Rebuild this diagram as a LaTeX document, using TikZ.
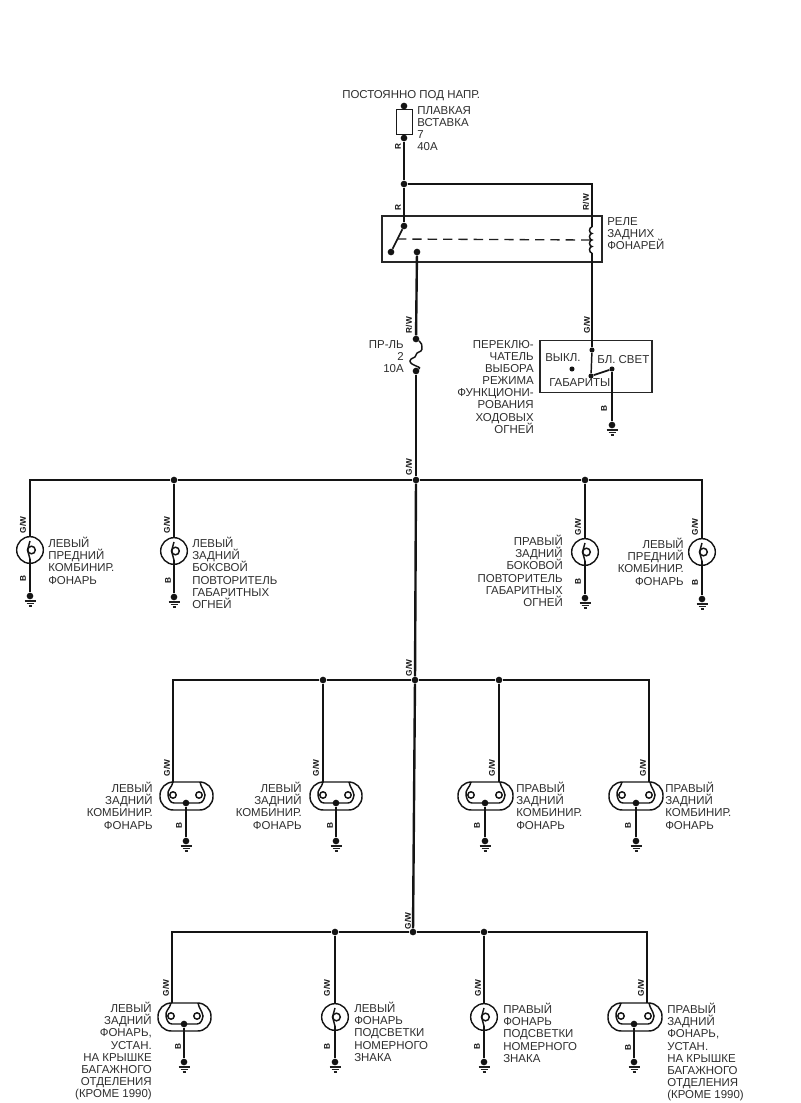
\documentclass[tikz,border=0pt]{standalone}
\usepackage{fontspec}
\setmainfont{Liberation Sans}
\usetikzlibrary{calc}
\newcommand{\lblfont}{\fontsize{8.6}{9.1}\selectfont\lineskiplimit-6pt\relax}
\tikzset{
  wire/.style={line width=1.8pt,color=black!92},
  thinl/.style={line width=0.85pt,color=black!88},
  filam/.style={line width=1.1pt,color=black!92},
  dot/.style={circle,fill=black!92,inner sep=0pt,minimum size=5pt},
  lbl/.style={font=\lblfont,inner sep=0pt,color=black!82},
  wlbl/.style={font=\fontsize{6.2}{6.5}\selectfont\bfseries,inner sep=0pt,rotate=90,color=black!92},
  lampc/.style={circle,draw=black!92,line width=1.05pt,inner sep=0pt,minimum size=20pt},
}
% ground under a dot
\newcommand{\gnd}[1]{
  \draw[thinl] ($(#1)+(-5.5,5)$)--++(11,0);
  \draw[thinl] ($(#1)+(-3.5,7.5)$)--++(7,0);
  \draw[thinl] ($(#1)+(-1.5,10)$)--++(3,0);
}
% round lamp: name, x, y, y of ground dot
\newcommand{\roundlamp}[4]{
  \node[lampc] (#1) at (#2,#3) {};
  \node[dot] (#1g) at (#2,#4) {};
  \draw[filam] ($(#1)+(1.5,0)$) circle (3.8);
  \draw[filam] ($(#1.north)+(0,5)$) to[out=-90,in=90] ($(#1)+(-2.5,0)$) to[out=-90,in=90] ($(#1.south)+(0,-5)$);
  \draw[wire] (#1.south)++(0,-5)--(#1g);
  \gnd{#1g}
}
% double lamp: name, x left, x right, y top, x of ground
\newcommand{\duallamp}[5]{
  \draw[filam,rounded corners=10pt] (#2,#4) rectangle (#3,#4+28);
  \coordinate (#1L) at (#2+13,#4+13);
  \coordinate (#1R) at (#3-14,#4+13);
  \draw[filam] (#1L) circle (3.2);
  \draw[filam] (#1R) circle (3.2);
  \draw[filam] (#2+13,#4) to[out=-100,in=100] (#2+8,#4+13) to[out=-80,in=180] (#2+14,#4+21)--(#3-14,#4+21) to[out=0,in=-100] (#3-8,#4+13) to[out=100,in=-80] (#3-13,#4);
  \node[dot] (#1d) at (#5,#4+21) {};
  \node[dot] (#1g) at (#5,#4+59) {};
  \draw[wire] (#1d)--(#1g);
  \gnd{#1g}
}
\begin{document}
\begin{tikzpicture}[x=0.75pt,y=-0.75pt]
\useasboundingbox (0,0) rectangle (800,1103);
% feed, fuse and relay
\node[lbl,anchor=west] (feedTxt) at (342,96) {ПОСТОЯННО ПОД НАПР.};
\node[dot] (fuseTop) at (404,106) {};
\node[dot] (fuseBot) at (404,138) {};
\node[draw=black!90,line width=0.9pt,minimum width=12.5pt,minimum height=19pt,inner sep=0pt] (fuse) at (404.5,122) {};
\draw[wire] (fuseTop)--(fuse.north);
\draw[wire] (fuse.south)--(fuseBot);
\node[lbl,anchor=north west,align=left] (fuseTxt) at (417,106) {ПЛАВКАЯ\\ВСТАВКА\\7\\40А};
\node[dot] (feed) at (404,184) {};
\draw[wire] (fuseBot)--(feed);
\node[wlbl] (rA) at (398,147) {R};
\node[wlbl] (rB) at (398,208) {R};
\node[wlbl] (rwA) at (586,202) {R/W};
\node[draw=black!85,line width=0.8pt,inner sep=0pt,minimum width=165pt,minimum height=34.5pt] (relay) at (492,239) {};
\node[lbl,anchor=north west,align=left] (relayTxt) at (607,217) {РЕЛЕ\\ЗАДНИХ\\ФОНАРЕЙ};
\node[dot] (swA) at (404,226) {};
\node[dot] (swB) at (391,252) {};
\node[dot] (swC) at (417,252) {};
\draw[wire] (feed)--(swA);
\draw[filam,line width=1.3pt] (swA)--(swB);
\coordinate (coilT) at (592,227);
\coordinate (coilB) at (592,253);
\draw[wire] (feed)--(592,184)--(coilT);
\draw[filam] (coilT) arc (-90:-270:2.5 and 3.25) arc (-90:-270:2.5 and 3.25) arc (-90:-270:2.5 and 3.25) arc (-90:-270:2.5 and 3.25);
\draw[thinl,dash pattern=on 7pt off 4.5pt,line width=1pt] (397,239)--(590,240);
% lights switch
\node[draw=black!85,line width=0.8pt,inner sep=0pt,minimum width=84pt,minimum height=38.5pt] (swBox) at (596,366.5) {};
\node[lbl,anchor=north east,align=right] (swTxt) at (534,340) {ПЕРЕКЛЮ-\\ЧАТЕЛЬ\\ВЫБОРА\\РЕЖИМА\\ФУНКЦИОНИ-\\РОВАНИЯ\\ХОДОВЫХ\\ОГНЕЙ};
\node[lbl,anchor=west] (offTxt) at (545,358) {ВЫКЛ.};
\node[lbl,anchor=west] (brTxt) at (597,360) {БЛ. СВЕТ};
\node[lbl,anchor=west] (parkTxt) at (549,383) {ГАБАРИТЫ};
\node[dot,minimum size=3.8pt] (swOff) at (572,369) {};
\node[dot,minimum size=3.8pt] (swIn) at (592,350) {};
\node[dot,minimum size=3.8pt] (swArm) at (591,376) {};
\node[dot,minimum size=3.8pt] (swOut) at (612,369) {};
\node[dot] (swGnd) at (612,425) {};
\draw[wire] (coilB)--(swIn);
\draw[filam] (swIn)--(swArm);
\draw[filam,line width=1.3pt] (swArm)--(swOut);
\draw[wire] (swOut)--(swGnd);
\gnd{swGnd}
\node[wlbl] (gwA) at (587,325) {G/W};
\node[wlbl] (bA) at (604,409) {B};
% main line
\node[wlbl] (rwB) at (409,325) {R/W};
\node[dot] (mainA) at (416,339) {};
\node[dot] (mainB) at (416,371) {};
\draw[wire] (swC)--(mainA);
\draw[filam] (mainA) to[out=-30,in=90] (422,349) to[out=-90,in=90] (416,355) to[out=-90,in=90] (410,361) to[out=-90,in=30] (mainB);
\node[lbl,anchor=north east,align=right] (fuse2) at (404,340) {ПР-ЛЬ\\2\\10А};
\node[wlbl] (gwB) at (409,467) {G/W};
\node[wlbl] (gwC) at (409,668) {G/W};
\node[wlbl] (gwD) at (408,921) {G/W};
\node[dot] (busA) at (416,480) {};
\node[dot] (busB) at (415,680) {};
\node[dot] (busC) at (413,932) {};
\draw[wire] (mainB)--(busA);
\draw[wire] (busA)--(busB);
\draw[wire] (busB)--(busC);
% first row
\node[dot] (a2) at (174,480) {};
\node[dot] (a3) at (585,480) {};
\roundlamp{la}{30}{550}{596}
\roundlamp{lb}{174}{551}{597}
\roundlamp{lc}{585}{552}{598}
\roundlamp{ld}{702}{552}{599}
\draw[wire] (la.north)--(30,480)--(a2);
\draw[wire] (a2)--(busA);
\draw[wire] (busA)--(a3);
\draw[wire] (a3)--(702,480)--(ld.north);
\draw[wire] (a2)--(lb.north);
\draw[wire] (a3)--(lc.north);
\node[wlbl] (t1) at (23,525) {G/W};
\node[wlbl] (t2) at (167,525) {G/W};
\node[wlbl] (t3) at (578,527) {G/W};
\node[wlbl] (t4) at (695,527) {G/W};
\node[wlbl] (b1) at (23,579) {B};
\node[wlbl] (b2) at (168,581) {B};
\node[wlbl] (b3) at (578,582) {B};
\node[wlbl] (b4) at (695,583) {B};
\node[lbl,anchor=north west,align=left] (la1) at (48,537) {ЛЕВЫЙ\\ПРЕДНИЙ\\КОМБИНИР.\\ФОНАРЬ};
\node[lbl,anchor=north west,align=left] (lb1) at (192,537) {ЛЕВЫЙ\\ЗАДНИЙ\\БОКСВОЙ\\ПОВТОРИТЕЛЬ\\ГАБАРИТНЫХ\\ОГНЕЙ};
\node[lbl,anchor=north east,align=right] (lc1) at (563,535) {ПРАВЫЙ\\ЗАДНИЙ\\БОКОВОЙ\\ПОВТОРИТЕЛЬ\\ГАБАРИТНЫХ\\ОГНЕЙ};
\node[lbl,anchor=north east,align=right] (ld1) at (684,538) {ЛЕВЫЙ\\ПРЕДНИЙ\\КОМБИНИР.\\ФОНАРЬ};
% second row
\node[dot] (b5) at (323,680) {};
\node[dot] (b6) at (499,680) {};
\duallamp{ma}{160}{213}{782}{186}
\duallamp{mb}{310}{362}{782}{336}
\duallamp{mc}{458}{513}{782}{485}
\duallamp{md}{609}{663}{782}{636}
\coordinate (maT) at (173,782);
\coordinate (mbT) at (323,782);
\coordinate (mcT) at (499,782);
\coordinate (mdT) at (649,782);
\draw[wire] (maT)--(173,680)--(b5);
\draw[wire] (b5)--(busB);
\draw[wire] (busB)--(b6);
\draw[wire] (b6)--(649,680)--(mdT);
\draw[wire] (b5)--(mbT);
\draw[wire] (b6)--(mcT);
\node[wlbl] (t5) at (167,768) {G/W};
\node[wlbl] (t6) at (316,768) {G/W};
\node[wlbl] (t7) at (492,768) {G/W};
\node[wlbl] (t8) at (643,768) {G/W};
\node[wlbl] (b7) at (179,826) {B};
\node[wlbl] (b8) at (330,826) {B};
\node[wlbl] (b9) at (477,826) {B};
\node[wlbl] (b10) at (628,826) {B};
\node[lbl,anchor=north east,align=right] (ma1) at (153,782) {ЛЕВЫЙ\\ЗАДНИЙ\\КОМБИНИР.\\ФОНАРЬ};
\node[lbl,anchor=north east,align=right] (mb1) at (302,782) {ЛЕВЫЙ\\ЗАДНИЙ\\КОМБИНИР.\\ФОНАРЬ};
\node[lbl,anchor=north west,align=left] (mc1) at (516,782) {ПРАВЫЙ\\ЗАДНИЙ\\КОМБИНИР.\\ФОНАРЬ};
\node[lbl,anchor=north west,align=left] (md1) at (665,782) {ПРАВЫЙ\\ЗАДНИЙ\\КОМБИНИР.\\ФОНАРЬ};
% third row
\node[dot] (c5) at (335,932) {};
\node[dot] (c6) at (484,932) {};
\duallamp{na}{158}{211}{1003}{184}
\roundlamp{nb}{335}{1017}{1062}
\roundlamp{nc}{484}{1017}{1062}
\duallamp{nd}{608}{662}{1003}{634}
\coordinate (naT) at (172,1003);
\coordinate (ndT) at (647,1003);
\draw[wire] (naT)--(172,932)--(c5);
\draw[wire] (c5)--(busC);
\draw[wire] (busC)--(c6);
\draw[wire] (c6)--(647,932)--(ndT);
\draw[wire] (c5)--(nb.north);
\draw[wire] (c6)--(nc.north);
\node[wlbl] (t9) at (166,988) {G/W};
\node[wlbl] (t10) at (327,988) {G/W};
\node[wlbl] (t11) at (478,988) {G/W};
\node[wlbl] (t12) at (641,988) {G/W};
\node[wlbl] (b11) at (178,1047) {B};
\node[wlbl] (b12) at (327,1047) {B};
\node[wlbl] (b13) at (477,1047) {B};
\node[wlbl] (b14) at (628,1048) {B};
\node[lbl,anchor=north east,align=right] (na1) at (152,1002) {ЛЕВЫЙ\\ЗАДНИЙ\\ФОНАРЬ,\\УСТАН.\\НА КРЫШКЕ\\БАГАЖНОГО\\ОТДЕЛЕНИЯ\\(КРОМЕ 1990)};
\node[lbl,anchor=north west,align=left] (nb1) at (354,1002) {ЛЕВЫЙ\\ФОНАРЬ\\ПОДСВЕТКИ\\НОМЕРНОГО\\ЗНАКА};
\node[lbl,anchor=north west,align=left] (nc1) at (503,1003) {ПРАВЫЙ\\ФОНАРЬ\\ПОДСВЕТКИ\\НОМЕРНОГО\\ЗНАКА};
\node[lbl,anchor=north west,align=left] (nd1) at (667,1003) {ПРАВЫЙ\\ЗАДНИЙ\\ФОНАРЬ,\\УСТАН.\\НА КРЫШКЕ\\БАГАЖНОГО\\ОТДЕЛЕНИЯ\\(КРОМЕ 1990)};
\end{tikzpicture}
\end{document}
